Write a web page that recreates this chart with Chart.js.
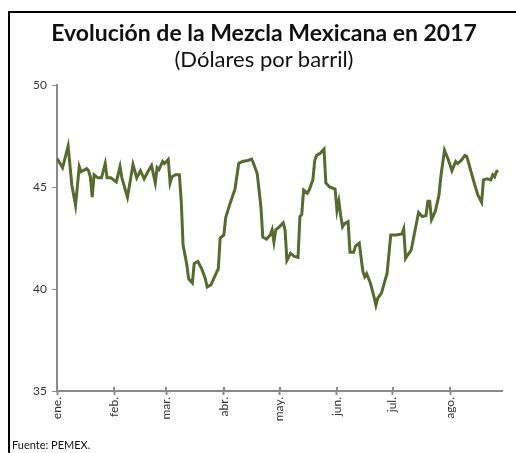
<!DOCTYPE html>
<html>
<head>
<meta charset="utf-8">
<script src="https://cdn.jsdelivr.net/npm/chart.js@4.4.1/dist/chart.umd.min.js"></script>
<style>
  html, body { margin: 0; padding: 0; background: #fff; }
  #wrap { position: relative; width: 516px; height: 453px; overflow: hidden; font-family: Lato, "Open Sans", sans-serif; }
  #frame { position: absolute; left: 8px; top: 11px; width: 520px; height: 460px; border-left: 2px solid #000; border-top: 2px solid #000; }
  #title { position: absolute; left: 0; width: 528px; top: 18px; text-align: center; font-weight: bold; font-size: 23px; color: #111; }
  #subtitle { position: absolute; left: 0; width: 528px; top: 45px; text-align: center; font-size: 22px; color: #111; }
  #source { position: absolute; left: 12px; top: 438px; font-size: 11px; color: #111; }
  canvas { position: absolute; left: 0; top: 0; }
</style>
</head>
<body>
<div id="wrap">
  <div id="frame"></div>
  <canvas id="c" width="516" height="453"></canvas>
  <div id="title">Evolución de la Mezcla Mexicana en 2017</div>
  <div id="subtitle">(Dólares por barril)</div>
  <div id="source">Fuente: PEMEX.</div>
</div>
<script>
// Day of year (0 = 1 de enero de 2017)
const days = [0,3,6,8,10,12,13,16,17,18,19,20,22,24,26,27,29,32,34,35,38,41,43,45,47,49,51,53,54,55,57,58,59,60,61,62,64,66,67,68,70,71,73,74,76,78,80,81,83,86,87,88,90,91,93,96,98,100,103,105,106,108,110,111,113,115,116,117,118,120,122,123,124,126,128,130,131,132,133,135,136,138,139,140,142,144,145,147,150,151,152,153,154,155,157,158,160,161,163,165,166,167,169,171,172,173,175,177,178,180,183,186,187,188,189,191,195,197,199,200,201,202,204,206,207,209,211,213,215,216,218,220,221,223,225,227,229,230,232,234,235,236,237,238];
// Precio de la mezcla (dólares por barril)
const prices = [46.4,45.95,47.0,45.1,44.1,46.0,45.75,45.9,45.8,45.5,44.5,45.6,45.45,45.45,46.15,45.45,45.45,45.25,46.0,45.45,44.5,46.1,45.45,45.8,45.4,45.75,46.05,45.2,45.95,45.85,46.25,46.15,46.25,46.35,45.2,45.5,45.6,45.6,44.3,42.15,41.2,40.5,40.3,41.25,41.35,41.0,40.5,40.1,40.2,40.8,41.0,42.5,42.65,43.5,44.1,44.9,46.15,46.25,46.3,46.37,46.15,45.65,44.0,42.55,42.45,42.65,42.9,42.3,42.9,43.05,43.25,42.9,41.4,41.75,41.6,41.55,43.55,43.65,44.85,44.7,44.85,45.35,46.3,46.55,46.65,46.85,45.2,45.0,44.9,43.85,44.3,43.6,43.05,43.2,43.3,41.8,41.8,42.1,42.25,40.85,40.6,40.75,40.3,39.6,39.2,39.55,39.8,40.45,40.75,42.65,42.65,42.7,42.95,41.5,41.65,41.9,43.75,43.55,43.6,44.3,44.3,43.4,43.8,44.6,45.5,46.8,46.35,45.8,46.25,46.15,46.3,46.55,46.5,45.85,45.2,44.6,44.25,45.35,45.4,45.35,45.6,45.5,45.75,45.8];
// Month starts (day of year) and labels
const monthStarts = [0,31,59,90,120,151,181,212];
const monthLabels = ['ene.','feb.','mar.','abr.','may.','jun.','jul.','ago.'];
const yTicks = [35,40,45,50];

const points = days.map((d, i) => ({x: d, y: prices[i]}));

const crossTicks = {
  id: 'crossTicks',
  afterDraw(chart) {
    const xs = chart.scales.x, ctx = chart.ctx;
    const yb = chart.chartArea.bottom;
    ctx.save();
    ctx.strokeStyle = '#8a8a8a';
    ctx.lineWidth = 2;
    monthStarts.forEach(v => {
      const px = Math.round(xs.getPixelForValue(v));
      ctx.beginPath();
      ctx.moveTo(px, yb - 4);
      ctx.lineTo(px, yb);
      ctx.stroke();
    });
    ctx.restore();
  }
};

new Chart(document.getElementById('c'), {
  type: 'line',
  data: {
    datasets: [{
      data: points,
      borderColor: '#556b2f',
      borderWidth: 3,
      pointRadius: 0,
      tension: 0,
      fill: false
    }]
  },
  options: {
    responsive: false,
    animation: false,
    layout: { padding: { left: 0, right: 14, top: 85, bottom: 0 } },
    plugins: { legend: { display: false }, tooltip: { enabled: false } },
    scales: {
      x: {
        type: 'linear',
        min: 0,
        max: 240,
        afterBuildTicks: (s) => { s.ticks = monthStarts.map(v => ({ value: v })); },
        afterFit: (s) => { s.height = 62; },
        ticks: {
          callback: (v) => { const i = monthStarts.indexOf(v); return i >= 0 ? monthLabels[i] : ''; },
          minRotation: 90, maxRotation: 90,
          autoSkip: false,
          padding: 2,
          color: '#333',
          font: { family: 'Lato', size: 12 }
        },
        grid: { drawOnChartArea: false, tickLength: 4, tickWidth: 2, color: '#8a8a8a' },
        border: { color: '#8a8a8a', width: 2 }
      },
      y: {
        min: 35,
        max: 50,
        afterBuildTicks: (s) => { s.ticks = yTicks.map(v => ({ value: v })); },
        afterFit: (s) => { s.width = 57; },
        ticks: {
          padding: 5,
          color: '#333',
          font: { family: 'Lato', size: 12 }
        },
        grid: { drawOnChartArea: false, tickLength: 5, tickWidth: 1, color: '#8a8a8a' },
        border: { color: '#8a8a8a', width: 2 }
      }
    }
  },
  plugins: [crossTicks]
});
</script>
</body>
</html>
